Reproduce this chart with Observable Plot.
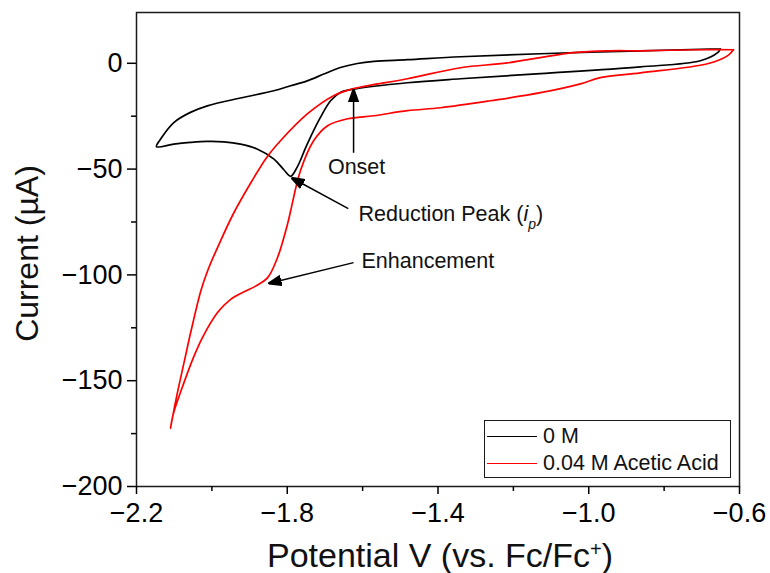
<!DOCTYPE html>
<html><head><meta charset="utf-8">
<script src="https://cdn.jsdelivr.net/npm/d3@7"></script>
<script src="https://cdn.jsdelivr.net/npm/@observablehq/plot@0.6"></script>
<style>
html,body{margin:0;padding:0;background:#fff;}
#chart{position:relative;width:770px;height:573px;font-family:'Liberation Sans',Arial,sans-serif;}
.legend{position:absolute;left:484px;top:420px;width:247px;height:58px;border:1.5px solid #1a1a1a;box-sizing:border-box;background:#fff;font-size:21.5px;color:#111;}
.row{position:absolute;left:2px;height:26px;display:flex;align-items:center;white-space:nowrap;}
.sw{width:50px;height:0;border-top:1.8px solid;margin-right:6px;}
</style></head><body><div id="chart"></div>
<script>
// 0 M : potential (V vs Fc/Fc+) and current (µA), in sweep order
const potential0M = [-0.651,-0.658,-0.704,-0.863,-1.128,-1.340,-1.481,-1.623,-1.659,-1.685,-1.712,-1.747,-1.774,-1.791,-1.809,-1.836,-1.880,-1.924,-1.968,-2.012,-2.057,-2.101,-2.147,
  -2.136,-2.101,-2.057,-2.012,-1.924,-1.836,-1.791,-1.747,-1.703,-1.659,-1.614,-1.570,-1.481,-1.340,-1.128,-0.863,-0.651];
const current0M = [6.8,5.0,1.2,-1.7,-4.9,-7.3,-9.2,-12.2,-13.8,-17.7,-25.6,-38.2,-49.2,-53.4,-50.3,-45.2,-40.5,-38.2,-37.1,-36.9,-37.4,-38.2,-39.4,
  -35.8,-28.0,-23.2,-20.1,-16.4,-13.0,-10.6,-8.3,-5.1,-2.0,-0.1,0.9,1.7,3.1,4.5,5.9,6.8];
// 0.04 M Acetic Acid
const potentialAcid = [-0.616,-0.632,-0.685,-0.863,-0.969,-1.022,-1.128,-1.261,-1.393,-1.481,-1.571,-1.640,-1.693,-1.730,-1.765,-1.791,-1.799,-1.826,-1.852,-1.884,-1.916,-1.951,-1.985,-2.025,-2.049,-2.075,-2.102,-2.110,
  -2.094,-2.071,-2.055,-2.029,-2.009,-1.985,-1.943,-1.895,-1.855,-1.818,-1.746,-1.677,-1.624,-1.481,-1.340,-1.216,-1.041,-0.942,-0.863,-0.704,-0.616];
const currentAcid = [6.4,3.5,-0.2,-4.5,-6.8,-9.7,-13.9,-17.7,-21.0,-22.4,-24.8,-26.2,-29.5,-36.6,-50.8,-69.7,-75.8,-91.9,-101.3,-105.3,-108.1,-111.7,-117.8,-129.6,-139.1,-151.4,-165.5,-172.6,
  -157.9,-139.1,-126.3,-107.4,-97.0,-87.1,-71.1,-56.0,-44.6,-36.6,-23.8,-15.3,-12.0,-7.3,-2.1,0.2,5.0,5.9,5.9,6.4,6.4];

const seriesNames = ["0 M", "0.04 M Acetic Acid"];
const seriesColors = ["#000000", "#ff0000"];

const xTicks = [-2.2, -1.8, -1.4, -1.0, -0.6];
const xMinor = [-2.0, -1.6, -1.2, -0.8];
const yTicks = [0, -50, -100, -150, -200];
const yMinor = [-25, -75, -125, -175];

// annotations
const labelText = ["Onset", "Reduction Peak (ip)", "Enhancement"];
const labelV = [-1.616, -1.611, -1.603];
const labelI = [-48.9, -71.5, -93.3];
const labelAnchor = ["middle", "start", "start"];
const arrowFromV = [-1.624, -1.638, -1.624];
const arrowFromI = [-42.3, -68.7, -94.2];
const arrowToV = [-1.624, -1.789, -1.850];
const arrowToI = [-12.2, -54.1, -104.1];

const NS = "http://www.w3.org/2000/svg";
function filledArrow(color, context) {
  const doc = (context && context.document) || document;
  const m = doc.createElementNS(NS, "marker");
  m.setAttribute("viewBox", "-10 -5 10 10");
  m.setAttribute("markerWidth", 13);
  m.setAttribute("markerHeight", 13);
  m.setAttribute("markerUnits", "userSpaceOnUse");
  m.setAttribute("orient", "auto");
  m.setAttribute("refX", 0);
  m.setAttribute("refY", 0);
  const p = doc.createElementNS(NS, "path");
  p.setAttribute("d", "M-10,-3.6L0,0L-10,3.6Z");
  p.setAttribute("fill", color === "currentColor" ? "black" : color);
  m.appendChild(p);
  return m;
}

const d0 = potential0M.map((v, i) => ({v, c: current0M[i]}));
const dA = potentialAcid.map((v, i) => ({v, c: currentAcid[i]}));
const arrows = arrowFromV.map((v, i) => ({x1: v, y1: arrowFromI[i], x2: arrowToV[i], y2: arrowToI[i]}));
const idx = d3.range(labelText.length);

function build(marker) {
  return Plot.plot({
    width: 770, height: 573,
    marginLeft: 136, marginRight: 31, marginTop: 12, marginBottom: 87,
    style: {fontFamily: "'Liberation Sans', Arial, sans-serif", fontSize: "27px", background: "white", color: "black"},
    x: {domain: [-2.2, -0.6]},
    y: {domain: [-200, 24]},
    marks: [
      Plot.line(d0, {x: "v", y: "c", stroke: seriesColors[0], strokeWidth: 1.7, curve: "catmull-rom"}),
      Plot.line(dA, {x: "v", y: "c", stroke: seriesColors[1], strokeWidth: 1.7, curve: "catmull-rom"}),
      Plot.link(arrows, {x1: "x1", y1: "y1", x2: "x2", y2: "y2", stroke: "black", strokeWidth: 1.5, markerEnd: marker}),
      Plot.text(idx.filter(i => labelAnchor[i] === "middle"), {x: i => labelV[i], y: i => labelI[i], text: i => labelText[i], textAnchor: "middle", fontSize: 21.5, fill: "#111"}),
      Plot.text(idx.filter(i => labelAnchor[i] === "start"), {x: i => labelV[i], y: i => labelI[i], text: i => labelText[i], textAnchor: "start", fontSize: 21.5, fill: "#111"}),
      Plot.frame({stroke: "#1a1a1a", strokeWidth: 1.5}),
      Plot.axisX({ticks: xTicks, tickSize: 8, tickPadding: 8, tickFormat: d3.format(".1f"), fontSize: 27, label: null, strokeWidth: 1.5}),
      Plot.axisX({ticks: xMinor, tickSize: 5, tickFormat: () => "", label: null, strokeWidth: 1.5}),
      Plot.axisY({ticks: yTicks, tickSize: 9, tickPadding: 5, tickFormat: d3.format("d"), fontSize: 27, label: null, strokeWidth: 1.5}),
      Plot.axisY({ticks: yMinor, tickSize: 5, tickFormat: () => "", label: null, strokeWidth: 1.5}),
      Plot.text(["Potential V (vs. Fc/Fc+)"], {frameAnchor: "bottom", textAnchor: "middle", lineAnchor: "middle", dx: 2, dy: 70, text: d => d, fontSize: 34, fill: "#111"}),
      Plot.text(["Current (µA)"], {frameAnchor: "left", textAnchor: "middle", lineAnchor: "middle", dx: -109, dy: 4, rotate: -90, text: d => d, fontSize: 32, fill: "#111"})
    ]
  });
}

let svg;
try { svg = build(filledArrow); } catch (e) { svg = build("arrow"); }

// rich text: italic i with subscript p, superscript +
for (const t of svg.querySelectorAll("text")) {
  if (t.textContent === "Reduction Peak (ip)") {
    t.textContent = "Reduction Peak (";
    const a = document.createElementNS(NS, "tspan");
    a.setAttribute("font-style", "italic"); a.textContent = "i";
    const b = document.createElementNS(NS, "tspan");
    b.setAttribute("font-style", "italic"); b.setAttribute("baseline-shift", "sub"); b.setAttribute("font-size", "14"); b.textContent = "p";
    const c = document.createElementNS(NS, "tspan"); c.textContent = ")";
    t.append(a, b, c);
  } else if (t.textContent === "Potential V (vs. Fc/Fc+)") {
    t.textContent = "Potential V (vs. Fc/Fc";
    const b = document.createElementNS(NS, "tspan");
    b.setAttribute("baseline-shift", "super"); b.setAttribute("font-size", "20"); b.textContent = "+";
    const c = document.createElementNS(NS, "tspan"); c.textContent = ")";
    t.append(b, c);
  }
}

const chart = document.getElementById("chart");
chart.appendChild(svg);
const legend = document.createElement("div");
legend.className = "legend";
seriesNames.forEach((name, i) => {
  const row = document.createElement("div");
  row.className = "row";
  row.style.top = (i === 0 ? 2 : 29) + "px";
  const sw = document.createElement("span");
  sw.className = "sw"; sw.style.borderColor = seriesColors[i];
  const tx = document.createElement("span"); tx.textContent = name;
  row.append(sw, tx);
  legend.appendChild(row);
});
chart.appendChild(legend);
</script></body></html>
